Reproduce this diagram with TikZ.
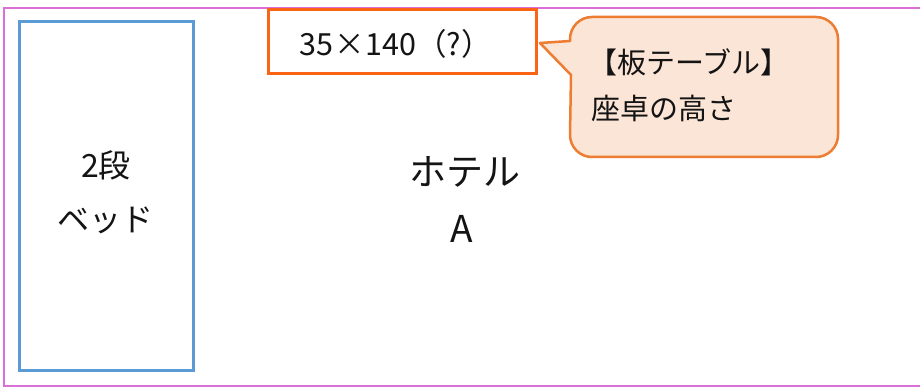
\documentclass[tikz,border=0pt]{standalone}
\usepackage{fontspec}
\setmainfont{Noto Sans CJK JP}
\definecolor{pinkline}{RGB}{218,112,214}
\definecolor{bluebox}{RGB}{91,155,213}
\definecolor{orangebox}{RGB}{250,100,20}
\definecolor{calloutline}{RGB}{237,125,49}
\definecolor{calloutfill}{RGB}{251,229,214}
\definecolor{txt}{RGB}{20,20,20}
\begin{document}
\begin{tikzpicture}[x=1pt,y=1pt,
  lbl/.style={inner sep=0pt, text=txt},
  bigtxt/.style={lbl, font=\fontsize{37}{37}\selectfont},
  midtxt/.style={lbl, font=\fontsize{32}{32}\selectfont},
  smalltxt/.style={lbl, font=\fontsize{30.5}{30.5}\selectfont},
  calltxt/.style={lbl, font=\fontsize{29}{29}\selectfont, anchor=west}]
\useasboundingbox (0,0) rectangle (920,-387);
\fill[white] (0,0) rectangle (920,-387);
% outer frame (right side beyond picture)
\draw[pinkline, line width=2.5pt] (930,-8) -- (4,-8) -- (4,-386) -- (930,-386);
% bed box
\node[draw=bluebox, line width=3pt, minimum width=174pt, minimum height=348pt, inner sep=0pt] (bed) at (106,-196) {};
\node[midtxt] (bed1) at (106,-165) {2段};
\node[midtxt] (bed2) at (105,-220) {ベッド};
% hotel text
\node[bigtxt] (hotel1) at (465,-172) {ホテル};
\node[bigtxt] (hotel2) at (462,-229) {A};
% top size box
\node[draw=orangebox, line width=3pt, minimum width=268pt, minimum height=64pt, inner sep=0pt] (sizebox) at (402,-42) {};
\node[smalltxt, anchor=west] (sizetxt) at (299,-44) {35\hspace{1pt}×\hspace{1pt}140（?）};
% callout
\draw[calloutline, fill=calloutfill, line width=2.5pt, line join=round]
  (570,-41) -- (540,-43) -- (571,-75) -- (570,-135)
  arc[start angle=180, end angle=270, radius=22] -- (816,-157)
  arc[start angle=270, end angle=360, radius=22] -- (838,-39)
  arc[start angle=0, end angle=90, radius=22] -- (592,-17)
  arc[start angle=90, end angle=180, radius=22] -- cycle;
\node[calltxt] (call1) at (588,-62) {【板テーブル】};
\node[calltxt] (call2) at (591,-108) {座卓の高さ};
\end{tikzpicture}
\end{document}
